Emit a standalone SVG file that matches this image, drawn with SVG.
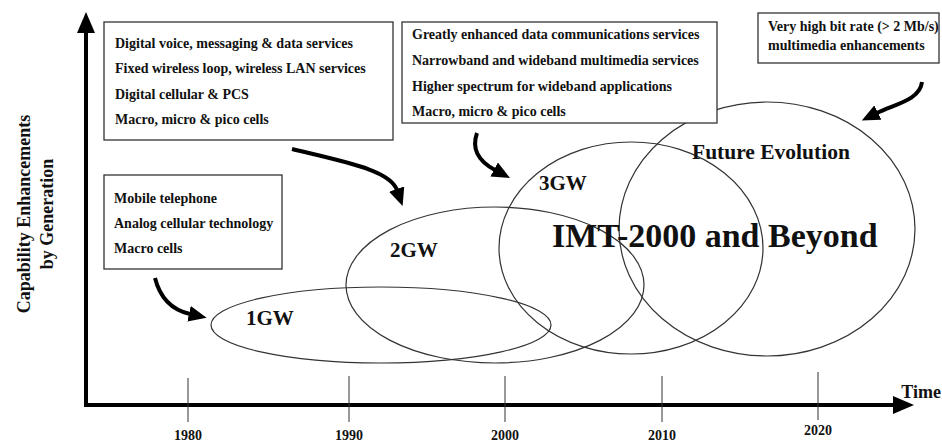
<svg xmlns="http://www.w3.org/2000/svg" width="942" height="442" viewBox="0 0 942 442">
  <defs>
    <style>
      text { font-family: "Liberation Serif", "Times New Roman", serif; font-weight: bold; fill: #111; }
      .box { fill: #fff; stroke: #333; stroke-width: 1.3; }
      .gen { fill: none; stroke: #333; stroke-width: 1.2; }
      .note { font-size: 14px; }
      .gw { font-size: 21px; }
      .year { font-size: 14px; text-anchor: middle; }
      .tick { stroke: #333; stroke-width: 1; }
      .axis { stroke: #000; stroke-width: 4; fill: none; }
      .flow { stroke: #000; stroke-width: 4; fill: none; marker-end: url(#head); }
    </style>
    <marker id="head" viewBox="0 0 18 16" refX="1" refY="8" markerWidth="18" markerHeight="16" markerUnits="userSpaceOnUse" orient="auto">
      <path d="M0,0 L18,8 L0,16 z" fill="#000"/>
    </marker>
  </defs>
  <rect width="942" height="442" fill="#fff"/>

  <!-- axes -->
  <g id="axes">
    <path class="axis" d="M86,30 V405 H896"/>
    <polygon points="86,12 77,33 95,33" fill="#000"/>
    <polygon points="914,405 893,396 893,414" fill="#000"/>
    <line class="tick" x1="188" y1="378" x2="188" y2="422"/>
    <line class="tick" x1="349" y1="376" x2="349" y2="422"/>
    <line class="tick" x1="505" y1="376" x2="505" y2="422"/>
    <line class="tick" x1="662" y1="376" x2="662" y2="422"/>
    <line class="tick" x1="818" y1="372" x2="818" y2="420"/>
    <text class="year" x="188" y="440">1980</text>
    <text class="year" x="349" y="440">1990</text>
    <text class="year" x="505" y="440">2000</text>
    <text class="year" x="662" y="440">2010</text>
    <text class="year" x="818" y="435">2020</text>
    <text x="941" y="398" font-size="18" text-anchor="end">Time</text>
    <g transform="translate(0,214) rotate(-90)" font-size="18" text-anchor="middle">
      <text x="0" y="30">Capability Enhancements</text>
      <text x="0" y="53">by Generation</text>
    </g>
  </g>

  <!-- generations -->
  <g id="gen-1gw">
    <ellipse class="gen" cx="381" cy="325" rx="170" ry="38"/>
  </g>
  <g id="gen-2gw">
    <ellipse class="gen" cx="495" cy="285" rx="149" ry="78"/>
  </g>
  <g id="gen-3gw">
    <ellipse class="gen" cx="631" cy="248" rx="132" ry="106"/>
  </g>
  <g id="gen-future">
    <ellipse class="gen" cx="767" cy="229" rx="148" ry="127"/>
  </g>
  <g id="gen-labels">
    <text class="gw" x="246" y="325">1GW</text>
    <text class="gw" x="390" y="257">2GW</text>
    <text class="gw" x="539" y="190">3GW</text>
    <text x="692" y="159" font-size="21.5">Future Evolution</text>
    <text x="552" y="247" font-size="34">IMT-2000 and Beyond</text>
  </g>

  <!-- feature boxes -->
  <g id="box-1g">
    <rect class="box" x="104" y="175" width="178" height="94"/>
    <text class="note" x="114" y="203">Mobile telephone</text>
    <text class="note" x="114" y="228">Analog cellular technology</text>
    <text class="note" x="114" y="253">Macro cells</text>
  </g>
  <g id="box-2g">
    <rect class="box" x="104" y="22" width="289" height="118"/>
    <text class="note" x="115" y="48">Digital voice, messaging &amp; data services</text>
    <text class="note" x="115" y="73">Fixed wireless loop, wireless LAN services</text>
    <text class="note" x="115" y="99">Digital cellular &amp; PCS</text>
    <text class="note" x="115" y="124">Macro, micro &amp; pico cells</text>
  </g>
  <g id="box-3g">
    <rect class="box" x="402" y="22" width="315" height="101"/>
    <text class="note" x="412" y="39">Greatly enhanced data communications services</text>
    <text class="note" x="412" y="65">Narrowband and wideband multimedia services</text>
    <text class="note" x="412" y="91">Higher spectrum for wideband applications</text>
    <text class="note" x="412" y="116">Macro, micro &amp; pico cells</text>
  </g>
  <g id="box-future">
    <rect class="box" x="758" y="13" width="181" height="50"/>
    <text class="note" x="768" y="31">Very high bit rate (&gt; 2 Mb/s)</text>
    <text class="note" x="768" y="50">multimedia enhancements</text>
  </g>

  <!-- connectors -->
  <g id="connectors">
    <path class="flow" d="M155,278 C160,298 172,310 190,314"/>
    <path class="flow" d="M292,149 C345,162 390,170 397,190"/>
    <path class="flow" d="M477,133 C471,150 480,162 495,170"/>
    <path class="flow" d="M922,82 C920,100 895,104 877,113"/>
  </g>
</svg>
